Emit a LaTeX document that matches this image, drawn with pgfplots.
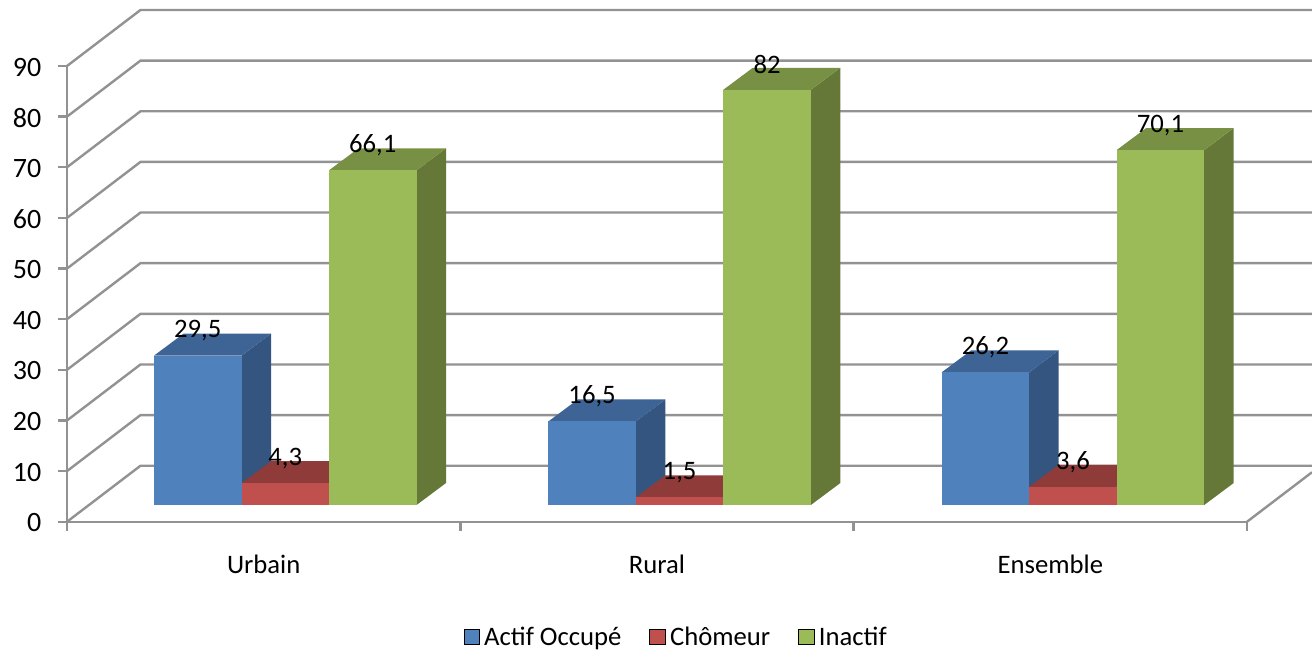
\documentclass[border=0pt]{standalone}
\usepackage{pgfplots}
\usepackage{fontspec}
\setmainfont{Carlito}
\pgfplotsset{compat=1.18}
\definecolor{bF}{HTML}{4F81BD}\definecolor{bS}{HTML}{345580}\definecolor{bT}{HTML}{3D6494}
\definecolor{rF}{HTML}{C0504D}\definecolor{rS}{HTML}{7E3432}\definecolor{rT}{HTML}{8F3B39}
\definecolor{gF}{HTML}{9BBB59}\definecolor{gS}{HTML}{657837}\definecolor{gT}{HTML}{789044}
\definecolor{gridc}{HTML}{929292}
% #1 left edge, #2 value, #3 label, #4 front, #5 side, #6 top
\newcommand\threeDbar[6]{%
  \pgfmathsetmacro\xa{#1}\pgfmathsetmacro\xb{#1+0.22246}%
  \pgfmathsetmacro\xc{\xb+0.0750}\pgfmathsetmacro\xd{\xa+0.0750}%
  \pgfmathsetmacro\xm{\xa+0.11123}%
  \pgfmathsetmacro\ya{3.30}\pgfmathsetmacro\yb{#2+3.30}%
  \pgfmathsetmacro\yc{\yb+4.345}\pgfmathsetmacro\yd{\ya+4.345}%
  \addplot[forget plot,fill=#5,draw=none] coordinates {(\xb,\ya) (\xc,\yd) (\xc,\yc) (\xb,\yb)} --cycle;
  \addplot[forget plot,fill=#6,draw=none] coordinates {(\xa,\yb) (\xb,\yb) (\xc,\yc) (\xd,\yc)} --cycle;
  \addplot[forget plot,fill=#4,draw=none] coordinates {(\xa,\ya) (\xb,\ya) (\xb,\yb) (\xa,\yb)} --cycle;
  \addplot[forget plot,draw=none,mark=none,nodes near coords={#3},
    nodes near coords align={anchor=center},
    every node near coord/.append style={anchor=center,yshift=18.7pt,font=\fontsize{20}{24}\selectfont,text=black,inner sep=0pt}]
    coordinates {(\xm,\yb)};
}
\begin{document}
\begin{tikzpicture}[x=1pt,y=1pt]
\path[use as bounding box] (0,0) rectangle (984,487.5);
\begin{axis}[
  at={(50.25pt,96.2pt)},anchor=south west,
  scale only axis,width=885pt,height=341.8pt,
  xmin=0,xmax=3,ymin=0,ymax=90,clip=false,
  axis x line=bottom,axis y line=left,
  axis line style={-,gridc,line width=1.8pt},
  tick style={gridc,line width=1.8pt},
  tick align=outside,major tick length=6.75pt,
  ytick={0,10,...,90},
  xtick={0,1,2,3},xticklabels={},
  extra x ticks={0.5,1.5,2.5},
  extra x tick labels={Urbain,Rural,Ensemble},
  extra x tick style={major tick length=0pt,tick style={draw=none}},
  x tick label style={font=\fontsize{20}{24}\selectfont,text=black,yshift=-21.5pt},
  y tick label style={font=\fontsize{21}{24}\selectfont,text=black,xshift=-9pt,yshift=-0.8pt},
  /pgf/number format/assume math mode=true,
  legend style={at={(0.5165,-0.2535)},anchor=center,draw=none,fill=none,
    legend columns=3,font=\fontsize{20}{24}\selectfont,inner sep=0pt,
    /tikz/every even column/.style={column sep=19pt}},
  legend image code/.code={\fill[#1] (0pt,-5.6pt) rectangle (11.6pt,6pt);\path (13.1pt,0pt);},
  legend cell align=left,
]
\addlegendimage{fill=bF}\addlegendentry{Actif Occupé}
\addlegendimage{fill=rF}\addlegendentry{Chômeur}
\addlegendimage{fill=gF}\addlegendentry{Inactif}
% walls: back wall lines and left-wall diagonals
\addplot[forget plot,gridc,line width=1.8pt] coordinates {(0,0) (0.18686,11.06) (3.1653,11.06)};
\addplot[forget plot,gridc,line width=1.8pt] coordinates {(0,10) (0.18686,21.06) (3.1653,21.06)};
\addplot[forget plot,gridc,line width=1.8pt] coordinates {(0,20) (0.18686,31.06) (3.1653,31.06)};
\addplot[forget plot,gridc,line width=1.8pt] coordinates {(0,30) (0.18686,41.06) (3.1653,41.06)};
\addplot[forget plot,gridc,line width=1.8pt] coordinates {(0,40) (0.18686,51.06) (3.1653,51.06)};
\addplot[forget plot,gridc,line width=1.8pt] coordinates {(0,50) (0.18686,61.06) (3.1653,61.06)};
\addplot[forget plot,gridc,line width=1.8pt] coordinates {(0,60) (0.18686,71.06) (3.1653,71.06)};
\addplot[forget plot,gridc,line width=1.8pt] coordinates {(0,70) (0.18686,81.06) (3.1653,81.06)};
\addplot[forget plot,gridc,line width=1.8pt] coordinates {(0,80) (0.18686,91.06) (3.1653,91.06)};
\addplot[forget plot,gridc,line width=1.8pt] coordinates {(0,90) (0.18686,101.06) (3.1653,101.06)};
\addplot[forget plot,gridc,line width=1.8pt] coordinates {(3,0) (3.1653,9.78)};
% bars
\threeDbar{0.2212}{29.5}{29,5}{bF}{bS}{bT}
\threeDbar{0.44366}{4.3}{4,3}{rF}{rS}{rT}
\threeDbar{0.66612}{66.1}{66,1}{gF}{gS}{gT}
\threeDbar{1.2237}{16.5}{16,5}{bF}{bS}{bT}
\threeDbar{1.44616}{1.5}{1,5}{rF}{rS}{rT}
\threeDbar{1.66862}{82}{82}{gF}{gS}{gT}
\threeDbar{2.2237}{26.2}{26,2}{bF}{bS}{bT}
\threeDbar{2.44616}{3.6}{3,6}{rF}{rS}{rT}
\threeDbar{2.66862}{70.1}{70,1}{gF}{gS}{gT}
\end{axis}
\end{tikzpicture}
\end{document}
